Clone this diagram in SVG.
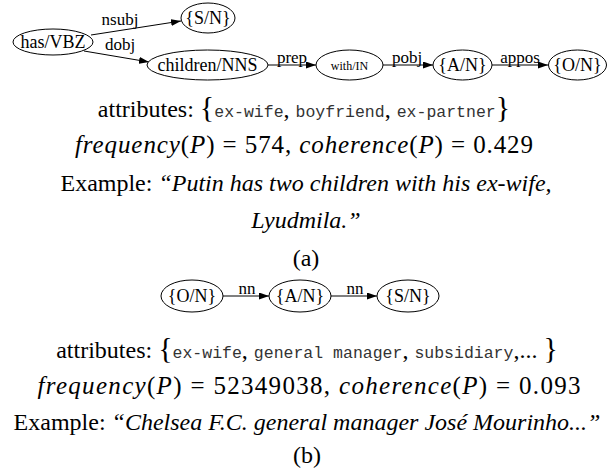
<svg xmlns="http://www.w3.org/2000/svg" width="616" height="472" viewBox="0 0 616 472">
<defs>
<marker id="arr" viewBox="0 0 10 7" refX="10" refY="3.5" markerWidth="10" markerHeight="7" markerUnits="userSpaceOnUse" orient="auto">
<path d="M0,0 L10,3.5 L0,7 Z" fill="#000"/>
</marker>
<style>
.n ellipse{fill:#fff;stroke:#000;stroke-width:1}
.n text{font-family:"Liberation Serif","Times New Roman",serif;font-size:18px;text-anchor:middle;fill:#000}
.e line{stroke:#000;stroke-width:1;marker-end:url(#arr)}
.el{font-family:"Liberation Serif","Times New Roman",serif;font-size:17px;text-anchor:middle;fill:#000}
.t{font-family:"Liberation Serif","Times New Roman",serif;font-size:24px;text-anchor:middle;fill:#000}
.mt{font-family:"Liberation Serif","Times New Roman",serif;font-size:25px;text-anchor:middle;fill:#000}
.m{font-family:"Liberation Mono","Courier New",monospace;font-size:16.5px;fill:#333}
.br{font-size:30px}
.i{font-style:italic}
</style>
</defs>
<rect width="616" height="472" fill="#fff"/>
<g id="connectors" class="e">
<line x1="91" y1="35" x2="181" y2="21"/>
<line x1="84" y1="51" x2="149" y2="62"/>
<line x1="268" y1="65" x2="316" y2="65"/>
<line x1="383" y1="65" x2="433" y2="65"/>
<line x1="492" y1="65" x2="548" y2="65"/>
<line x1="223" y1="296" x2="269" y2="296"/>
<line x1="331" y1="296" x2="377" y2="296"/>
</g>
<g id="edge-labels">
<text class="el" x="120" y="25">nsubj</text>
<text class="el" x="120" y="50">dobj</text>
<text class="el" x="292" y="63">prep</text>
<text class="el" x="407" y="63">pobj</text>
<text class="el" x="520" y="63">appos</text>
<text class="el" x="247" y="294">nn</text>
<text class="el" x="355" y="294">nn</text>
</g>
<g id="n-has" class="n"><ellipse cx="53" cy="42" rx="40" ry="13"/><text x="53" y="48">has/VBZ</text></g>
<g id="n-sn1" class="n"><ellipse cx="208" cy="18" rx="27" ry="15"/><text x="208" y="24">{S/N}</text></g>
<g id="n-children" class="n"><ellipse cx="207.5" cy="65" rx="60.5" ry="15"/><text x="207.5" y="71">children/NNS</text></g>
<g id="n-with" class="n"><ellipse cx="349.5" cy="65" rx="33.5" ry="15"/><text x="349.5" y="69.5" style="font-size:12px">with/IN</text></g>
<g id="n-an1" class="n"><ellipse cx="462.5" cy="65" rx="29.5" ry="15"/><text x="462.5" y="71">{A/N}</text></g>
<g id="n-on1" class="n"><ellipse cx="577.5" cy="65" rx="29" ry="15"/><text x="577.5" y="71">{O/N}</text></g>
<g id="n-on2" class="n"><ellipse cx="192" cy="296" rx="31" ry="16"/><text x="192" y="302">{O/N}</text></g>
<g id="n-an2" class="n"><ellipse cx="300" cy="296" rx="31" ry="16"/><text x="300" y="302">{A/N}</text></g>
<g id="n-sn2" class="n"><ellipse cx="408" cy="296" rx="31" ry="16"/><text x="408" y="302">{S/N}</text></g>
<g id="caption-a">
<text class="t" x="304" y="117">attributes: <tspan class="br">{</tspan><tspan class="m">ex-wife</tspan>, <tspan class="m">boyfriend</tspan>, <tspan class="m">ex-partner</tspan><tspan class="br">}</tspan></text>
<text class="mt" x="304" y="153" textLength="458" lengthAdjust="spacing"><tspan class="i">frequency</tspan>(<tspan class="i">P</tspan>) = 574, <tspan class="i">coherence</tspan>(<tspan class="i">P</tspan>) = 0.429</text>
<text class="t" x="306" y="191">Example: <tspan class="i">“Putin has two children with his ex-wife,</tspan></text>
<text class="t i" x="306" y="228">Lyudmila.”</text>
<text class="t" x="306" y="266">(a)</text>
</g>
<g id="caption-b">
<text class="t" x="307" y="358">attributes: <tspan class="br">{</tspan><tspan class="m">ex-wife</tspan>, <tspan class="m">general manager</tspan>, <tspan class="m">subsidiary</tspan>,... <tspan class="br">}</tspan></text>
<text class="mt" x="309" y="394" textLength="543" lengthAdjust="spacing"><tspan class="i">frequency</tspan>(<tspan class="i">P</tspan>) = 52349038, <tspan class="i">coherence</tspan>(<tspan class="i">P</tspan>) = 0.093</text>
<text class="t" x="307" y="430">Example: <tspan class="i">“Chelsea F.C. general manager José Mourinho...”</tspan></text>
<text class="t" x="307" y="463">(b)</text>
</g>
</svg>
